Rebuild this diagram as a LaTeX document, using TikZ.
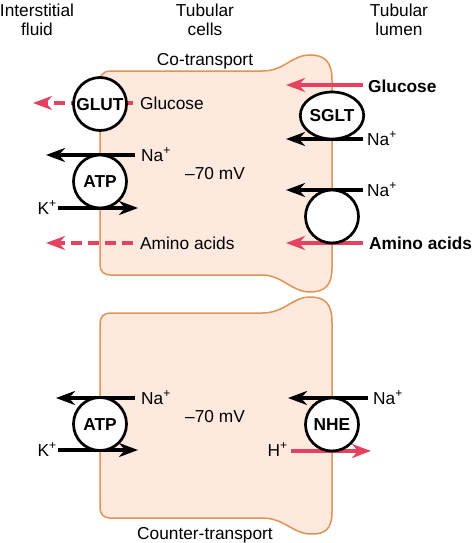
\documentclass[tikz,border=0pt]{standalone}
\usepackage{fontspec}
\setmainfont{Liberation Sans}
\usetikzlibrary{arrows.meta,shapes.geometric}
\definecolor{cellfill}{RGB}{253,233,221}
\definecolor{celledge}{RGB}{226,146,84}
\definecolor{redarr}{RGB}{228,66,94}
\begin{document}
\begin{tikzpicture}[x=1pt,y=-1pt,
  cell/.style={fill=cellfill,draw=celledge,line width=1.5pt},
  lbl/.style={inner sep=0pt,text height=12.4pt,text depth=0pt,font=\fontsize{17.3}{19}\selectfont},
  blbl/.style={lbl,font=\fontsize{17.3}{19}\selectfont\bfseries},
  pump/.style={circle,draw=black,line width=2.7pt,fill=white,minimum size=53pt,inner sep=0pt,text height=12.4pt,text depth=0pt,font=\fontsize{17.3}{19}\selectfont\bfseries},
  tip/.style={-{Stealth[length=19pt,width=14pt,inset=6pt]}},
  blk/.style={tip,line width=3.2pt,black},
  red/.style={tip,line width=3.2pt,redarr},
  reddash/.style={red,dash pattern=on 11pt off 6pt}
]
\useasboundingbox (0,0) rectangle (474,543);
% cells
\path[cell] (100,81) .. controls (100,75) and (104,71) .. (110,71) -- (262,71)
  .. controls (285,71) and (291,55) .. (310,55)
  .. controls (325,55) and (332,62) .. (332,80) -- (332,268)
  .. controls (332,284) and (326,292) .. (310,292)
  .. controls (292,292) and (282,275) .. (262,275) -- (110,275)
  .. controls (104,275) and (100,271) .. (100,265) -- cycle;
\path[cell] (100,323) .. controls (100,317) and (104,313) .. (110,313) -- (262,313)
  .. controls (285,313) and (292,297) .. (310,297)
  .. controls (326,297) and (332,305) .. (332,322) -- (332,512)
  .. controls (332,528) and (326,534) .. (312,534)
  .. controls (292,534) and (285,518) .. (262,518) -- (110,518)
  .. controls (104,518) and (100,514) .. (100,508) -- cycle;
% headers
\node[lbl] (h1a) at (37,10) {Interstitial};
\node[lbl] (h1b) at (37,29) {fluid};
\node[lbl] (h2a) at (205,10) {Tubular};
\node[lbl] (h2b) at (205,29) {cells};
\node[lbl] (h3a) at (399,10) {Tubular};
\node[lbl] (h3b) at (399,29) {lumen};
\node[lbl] (co) at (205,59) {Co-transport};
\node[lbl] (ct) at (205,533) {Counter-transport};
\node[lbl] (mv1) at (215,173) {–70 mV};
\node[lbl] (mv2) at (215,416) {–70 mV};
% labels
\node[lbl,anchor=west] (gluL) at (140,103) {Glucose};
\node[lbl,anchor=west] (naA) at (141,155) {Na\textsuperscript{+}};
\node[lbl,anchor=east] (kA) at (57,208) {K\textsuperscript{+}};
\node[lbl,anchor=west] (aaL) at (140,243) {Amino acids};
\node[blbl,anchor=west] (gluR) at (368,86) {Glucose};
\node[lbl,anchor=west] (naS) at (367,139) {Na\textsuperscript{+}};
\node[lbl,anchor=west] (naAA) at (367,190) {Na\textsuperscript{+}};
\node[blbl,anchor=west] (aaR) at (369,243) {Amino acids};
\node[lbl,anchor=west] (naB) at (141,398) {Na\textsuperscript{+}};
\node[lbl,anchor=east] (kB) at (57,450) {K\textsuperscript{+}};
\node[lbl,anchor=west] (naN) at (373,398) {Na\textsuperscript{+}};
\node[lbl,anchor=east] (hN) at (288,450) {H\textsuperscript{+}};
% arrow end points
\coordinate (g1s) at (133,103); \coordinate (g1e) at (33,103);
\coordinate (n1s) at (135,155); \coordinate (n1e) at (46,155);
\coordinate (k1s) at (58,208); \coordinate (k1e) at (138,208);
\coordinate (a1s) at (133,243); \coordinate (a1e) at (46,243);
\coordinate (g2s) at (363,85); \coordinate (g2e) at (286,85);
\coordinate (n2s) at (363,139); \coordinate (n2e) at (286,139);
\coordinate (n3s) at (363,190); \coordinate (n3e) at (286,190);
\coordinate (a2s) at (363,243); \coordinate (a2e) at (286,243);
\coordinate (n4s) at (135,398); \coordinate (n4e) at (56,398);
\coordinate (k2s) at (58,450); \coordinate (k2e) at (138,450);
\coordinate (n5s) at (368,398); \coordinate (n5e) at (288,398);
\coordinate (h5s) at (291,451); \coordinate (h5e) at (371,451);
% arrows
\draw[reddash] (g1s) -- (g1e);
\draw[blk] (n1s) -- (n1e);
\draw[blk] (k1s) -- (k1e);
\draw[reddash] (a1s) -- (a1e);
\draw[red] (g2s) -- (g2e);
\draw[blk] (n2s) -- (n2e);
\draw[blk] (n3s) -- (n3e);
\draw[red] (a2s) -- (a2e);
\draw[blk] (n4s) -- (n4e);
\draw[blk] (k2s) -- (k2e);
\draw[blk] (n5s) -- (n5e);
\draw[red] (h5s) -- (h5e);
% transporters
\node[pump] (glut) at (100,104) {GLUT};
\node[pump] (atp1) at (100,181.5) {ATP};
\node[pump,ellipse,minimum width=56pt,minimum height=47pt] (sglt) at (332,115.5) {SGLT};
\node[pump] (aac) at (332,216.5) {};
\node[pump] (atp2) at (100,424) {ATP};
\node[pump] (nhe) at (332,424.5) {NHE};
\end{tikzpicture}
\end{document}
